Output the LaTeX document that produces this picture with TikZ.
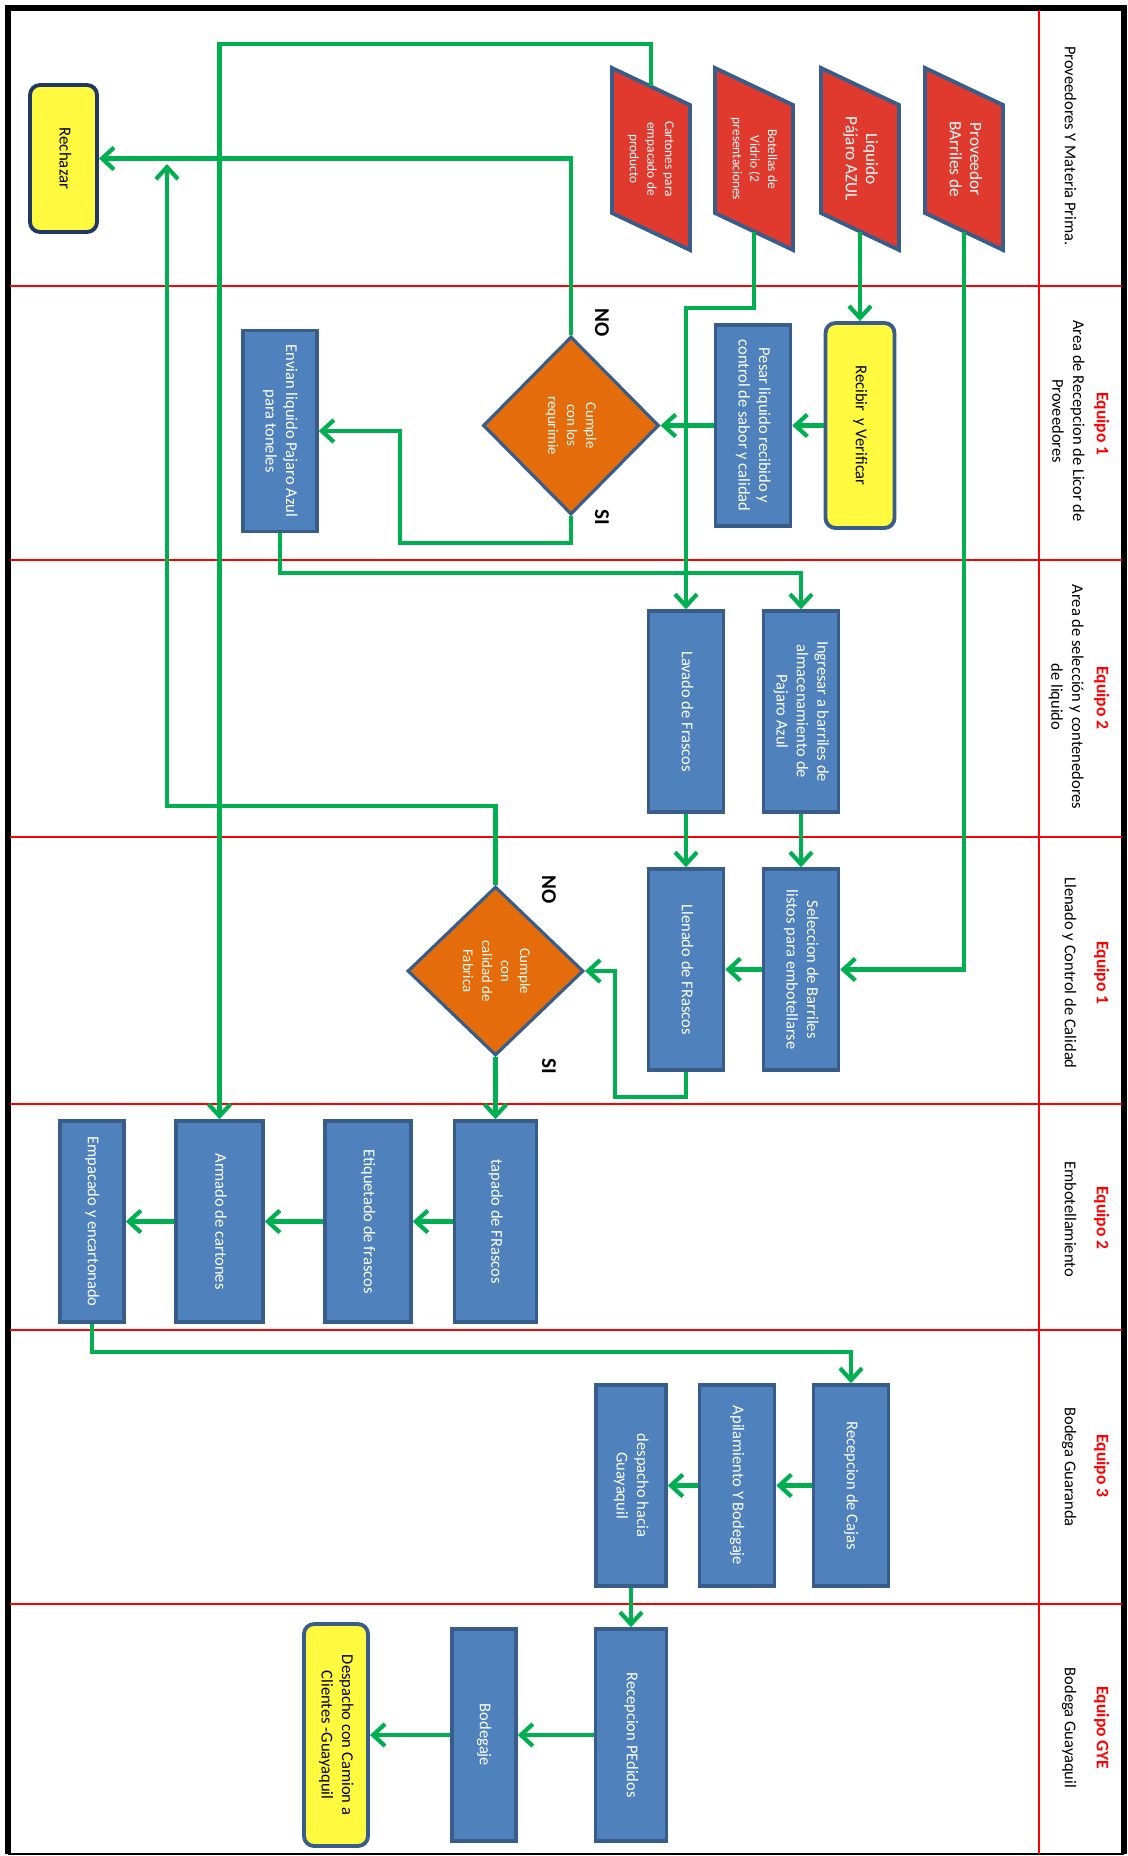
\documentclass[tikz,border=0pt]{standalone}
\usepackage{fontspec}
\setmainfont{Carlito}
\usepackage{graphicx}
\usetikzlibrary{arrows.meta,shapes.geometric}

\definecolor{boxblue}{HTML}{4F81BD}
\definecolor{boxline}{HTML}{385D8A}
\definecolor{flowgreen}{HTML}{00B050}
\definecolor{termyellow}{HTML}{FFFA40}
\definecolor{termline}{HTML}{1F3864}
\definecolor{matred}{HTML}{E03A2F}
\definecolor{decorange}{HTML}{E46C0A}

\newcommand{\vt}[1]{\rotatebox{-90}{\begin{tabular}{@{}c@{}}#1\end{tabular}}}

\begin{document}
\begin{tikzpicture}[x=0.02cm, y=-0.02cm,
    every node/.style={font=\fontsize{9.4}{11.6}\selectfont},
    proc/.style={rectangle, draw=boxline, line width=2pt, fill=boxblue, text=white,
                 minimum width=1.5cm, minimum height=4.02cm, inner sep=0pt},
    term/.style={rectangle, rounded corners=2mm, draw=termline, line width=2.2pt,
                 fill=termyellow, minimum width=1.34cm, inner sep=0pt},
    dec/.style={diamond, draw=boxline, line width=1.8pt, fill=decorange, text=white,
                inner sep=0pt, minimum width=3.52cm, font=\fontsize{8.4}{10.8}\selectfont},
    mat/.style={draw=boxline, line width=2.2pt, fill=matred},
    mattxt/.style={text=white, minimum width=1.56cm, minimum height=2.9cm, inner sep=0pt},
    e/.style={draw=flowgreen, line width=2.4pt, -{Straight Barb[length=2.4mm, width=4.4mm]}},
    yn/.style={font=\fontsize{12}{14}\selectfont\bfseries},
    lane/.style={red, line width=1.1pt},
    eq/.style={text=red, font=\fontsize{10}{12}\selectfont\bfseries},
    area/.style={font=\fontsize{9.4}{11.8}\selectfont},
  ]
  \useasboundingbox (0,0) rectangle (1128,1856);

  % frame and swimlanes
  \draw[line width=3.4pt] (8,1854) -- (8,8) -- (1124,8) -- (1124,1854);
  \draw[line width=0.8pt] (8,1854) -- (1124,1854);
  \draw[lane] (1039,10) -- (1039,1854);
  \foreach \ly in {286,560,837,1104,1330,1604}
    \draw[lane] (10,\ly) -- (1122,\ly);

  % lane headers
  \node[area] (h1) at (1069,146) {\vt{Proveedores Y Materia Prima.}};
  \node[eq] (q2) at (1101,424) {\vt{Equipo 1}};
  \node[area] (h2) at (1067,421) {\vt{Area de Recepcion de Licor de\\Proveedores}};
  \node[eq] (q3) at (1101,698) {\vt{Equipo 2}};
  \node[area] (h3) at (1066,697) {\vt{Area de selección y contenedores\\de liquido}};
  \node[eq] (q4) at (1101,973) {\vt{Equipo 1}};
  \node[area] (h4) at (1069,973) {\vt{Llenado y Control de Calidad}};
  \node[eq] (q5) at (1101,1218) {\vt{Equipo 2}};
  \node[area] (h5) at (1069,1219) {\vt{Embotellamiento}};
  \node[eq] (q6) at (1101,1466) {\vt{Equipo 3}};
  \node[area] (h6) at (1069,1467) {\vt{Bodega Guaranda}};
  \node[eq] (q7) at (1101,1728) {\vt{Equipo GYE}};
  \node[area] (h7) at (1069,1728) {\vt{Bodega Guayaquil}};

  % materia prima
  \draw[mat] (612,68) -- (690,105) -- (690,250) -- (612,213) -- cycle;
  \draw[mat] (715,68) -- (793,105) -- (793,250) -- (715,213) -- cycle;
  \draw[mat] (821,68) -- (899,105) -- (899,250) -- (821,213) -- cycle;
  \draw[mat] (925,68) -- (1003,105) -- (1003,250) -- (925,213) -- cycle;
  \node[mattxt, font=\fontsize{7.6}{10}\selectfont] (cart) at (651,159) {\vt{Cartones para\\empacado de\\producto}};
  \node[mattxt, font=\fontsize{7.6}{10}\selectfont] (bot) at (754,159) {\vt{Botellas de\\Vidrio (2\\presentaciones}};
  \node[mattxt, font=\fontsize{9.8}{11.5}\selectfont] (liq) at (860,159) {\vt{Liquido\\Pájaro AZUL}};
  \node[mattxt, font=\fontsize{9.8}{11.5}\selectfont] (prov) at (964,159) {\vt{Proveedor\\BArriles de}};

  \node[term, minimum height=2.94cm, font=\fontsize{9.6}{11}\selectfont] (rech) at (63.5,158.5) {\vt{Rechazar}};

  % recepcion
  \node[term, draw=boxline, minimum width=1.38cm, minimum height=4.1cm] (recib) at (860,425.5) {\vt{Recibir\ \ y Verificar}};
  \node[proc] (pesar) at (753,425.5) {\vt{Pesar liquido recibido y\\control de sabor y calidad}};
  \node[dec, minimum height=3.56cm] (dec1) at (571,425.5) {\vt{Cumple\\con los\\requrimie}};
  \node[proc, minimum width=1.48cm] (envian) at (280,431) {\vt{Envian liquido Pajaro Azul\\para toneles}};
  \node[yn] (no1) at (602,323) {\rotatebox{-90}{NO}};
  \node[yn] (si1) at (602,517) {\rotatebox{-90}{SI}};

  % seleccion
  \node[proc] (ingr) at (801,711.5) {\vt{Ingresar a barriles de\\almacenamiento de\\Pajaro Azul}};
  \node[proc] (lavado) at (686,711.5) {\vt{Lavado de Frascos}};

  % llenado y control
  \node[proc] (selec) at (801,969.5) {\vt{Seleccion de Barriles\\listos para embotellarse}};
  \node[proc] (llenado) at (686,969.5) {\vt{Llenado de FRascos}};
  \node[dec, minimum height=3.38cm] (dec2) at (495.5,971) {\vt{Cumple\\con\\calidad de\\Fabrica}};
  \node[yn] (no2) at (549,890) {\rotatebox{-90}{NO}};
  \node[yn] (si2) at (549,1066) {\rotatebox{-90}{SI}};

  % embotellamiento
  \node[proc, minimum width=1.64cm] (tapado) at (495.5,1221.5) {\vt{tapado de FRascos}};
  \node[proc, minimum width=1.72cm] (etiq) at (368,1221.5) {\vt{Etiquetado de frascos}};
  \node[proc, minimum width=1.74cm] (armado) at (219.5,1221.5) {\vt{Armado de cartones}};
  \node[proc, minimum width=1.28cm] (empac) at (92,1221.5) {\vt{Empacado y encartonado}};

  % bodega guaranda
  \node[proc] (rcaj) at (851,1485.5) {\vt{Recepcion de Cajas}};
  \node[proc] (apil) at (737,1485.5) {\vt{Apilamiento Y Bodegaje}};
  \node[proc, minimum width=1.4cm] (desp) at (631,1485.5) {\vt{despacho hacia\\Guayaquil}};

  % bodega guayaquil
  \node[proc, minimum width=1.42cm, minimum height=4.24cm] (rped) at (631,1735) {\vt{Recepcion PEdidos}};
  \node[proc, minimum width=1.28cm, minimum height=4.24cm] (bodeg) at (484,1735) {\vt{Bodegaje}};
  \node[term, draw=boxline, minimum width=1.28cm, minimum height=4.44cm] (camion) at (336,1735) {\vt{Despacho con Camion a\\Clientes -Guayaquil}};

  \coordinate (rjoin) at (167,164);

  % flujo
  \draw[e] (cart.north) -- ++(0,-42.5) -| (armado.north);
  \draw[e] (dec1.north) |- (rech.east);
  \draw[e] (dec2.north) -- ++(0,-79) -| (rjoin);
  \draw[e] (prov.south) |- (selec.east);
  \draw[e] (liq.south) -- (recib.north);
  \draw[e] (bot.south) -- ++(0,76.5) -| (lavado.north);
  \draw[e] (recib) -- (pesar);
  \draw[e] (pesar) -- (dec1);
  \draw[e] (dec1.south) -- ++(0,27) -- ++(-171,0) |- (envian.east);
  \draw[e] (envian.south) -- ++(0,40) -| (ingr.north);
  \draw[e] (ingr) -- (selec);
  \draw[e] (lavado) -- (llenado);
  \draw[e] (selec) -- (llenado);
  \draw[e] (llenado.south) -- ++(0,25.5) -- ++(-71,0) |- (dec2.east);
  \draw[e] (dec2) -- (tapado);
  \draw[e] (tapado) -- (etiq);
  \draw[e] (etiq) -- (armado);
  \draw[e] (armado) -- (empac);
  \draw[e] (empac.south) -- ++(0,28.5) -| (rcaj.north);
  \draw[e] (rcaj) -- (apil);
  \draw[e] (apil) -- (desp);
  \draw[e] (desp) -- (rped);
  \draw[e] (rped) -- (bodeg);
  \draw[e] (bodeg) -- (camion);
\end{tikzpicture}
\end{document}
